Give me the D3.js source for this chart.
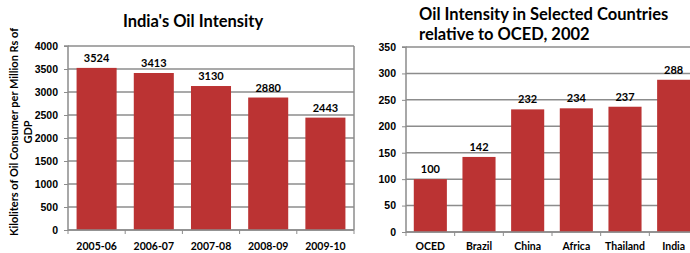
<!DOCTYPE html>
<html>
<head>
<meta charset="utf-8">
<script src="https://cdn.jsdelivr.net/npm/d3@7"></script>
<style>
  body { margin: 0; background: #fff; }
  svg { display: block; font-family: Lato, "Open Sans", sans-serif; }
</style>
</head>
<body>
<svg id="chart" width="690" height="253"></svg>
<script>
// left chart data
var years = ["2005-06", "2006-07", "2007-08", "2008-09", "2009-10"];
var intensity = [3524, 3413, 3130, 2880, 2443];
var leftTicks = [0, 500, 1000, 1500, 2000, 2500, 3000, 3500, 4000];

// right chart data
var countries = ["OCED", "Brazil", "China", "Africa", "Thailand", "India"];
var relative = [100, 142, 232, 234, 237, 288];
var rightTicks = [0, 50, 100, 150, 200, 250, 300, 350];

var barColor = "#bb3333";
var gridColor = "#8c8c8c";

var svg = d3.select("#chart");

function drawPanel(opts) {
    var g = svg.append("g");
    var x = d3.scaleBand().domain(opts.cats).range([opts.x0, opts.x1]).paddingInner(opts.pad).paddingOuter(opts.pad / 2);
    var y = d3.scaleLinear().domain([0, opts.max]).range([opts.y0, opts.y1]);

    // gridlines
    g.selectAll("line.grid").data(opts.ticks).enter().append("line")
        .attr("x1", opts.x0).attr("x2", opts.x1)
        .attr("y1", d => y(d)).attr("y2", d => y(d))
        .attr("stroke", gridColor).attr("stroke-width", 1.5);

    if (opts.rightBorder) {
        g.append("line").attr("x1", opts.x1).attr("x2", opts.x1)
            .attr("y1", opts.y1).attr("y2", opts.y0)
            .attr("stroke", gridColor).attr("stroke-width", 1.5);
    }

    // bars
    g.selectAll("rect").data(opts.vals).enter().append("rect")
        .attr("x", (d, i) => x(opts.cats[i]))
        .attr("width", x.bandwidth())
        .attr("y", d => y(d))
        .attr("height", d => opts.y0 - y(d))
        .attr("fill", barColor);

    // value labels
    g.selectAll("text.val").data(opts.vals).enter().append("text")
        .attr("x", (d, i) => x(opts.cats[i]) + x.bandwidth() / 2)
        .attr("y", d => y(d) - 6)
        .attr("text-anchor", "middle")
        .style("font-size", "11px").style("font-weight", "bold")
        .text(d => d);

    // y axis
    var yAxis = d3.axisLeft(y).tickValues(opts.ticks).tickFormat(d3.format("d")).tickSize(4).tickPadding(6);
    var ya = g.append("g").attr("transform", `translate(${opts.x0},0)`).call(yAxis);
    ya.select(".domain").attr("stroke", gridColor).attr("stroke-width", 1.5).attr("d", `M-4,${opts.y1}H0V${opts.y0}`);
    ya.selectAll(".tick line").attr("stroke", gridColor);
    ya.selectAll("text").style("font-size", "10.5px").style("font-weight", "bold").attr("fill", "#000");

    // x axis
    var xa = g.append("g").attr("transform", `translate(0,${opts.y0})`);
    xa.append("line").attr("x1", opts.x0).attr("x2", opts.x1).attr("stroke", gridColor).attr("stroke-width", 1.5);
    var step = x.step();
    xa.selectAll("line.tk").data(d3.range(opts.cats.length + 1)).enter().append("line")
        .attr("x1", i => opts.x0 + i * step).attr("x2", i => opts.x0 + i * step)
        .attr("y1", 0).attr("y2", 4).attr("stroke", gridColor);
    xa.selectAll("text").data(opts.cats).enter().append("text")
        .attr("x", d => x(d) + x.bandwidth() / 2)
        .attr("y", opts.labelY)
        .attr("text-anchor", "middle")
        .style("font-size", "10.5px").style("font-weight", "bold")
        .text(d => d);
}

drawPanel({ cats: years, vals: intensity, ticks: leftTicks, max: 4000,
    x0: 68, x1: 354, y0: 230, y1: 46, pad: 0.3, rightBorder: true, labelY: 20 });

drawPanel({ cats: countries, vals: relative, ticks: rightTicks, max: 350,
    x0: 406, x1: 698, y0: 232, y1: 47, pad: 0.32, rightBorder: false, labelY: 18 });

// titles
svg.append("text").attr("x", 193).attr("y", 27).attr("text-anchor", "middle")
    .style("font-size", "16.5px").style("font-weight", "bold").text("India's Oil Intensity");
svg.append("text").attr("x", 419).attr("y", 20)
    .style("font-size", "16.5px").style("font-weight", "bold").text("Oil Intensity in Selected Countries");
svg.append("text").attr("x", 419).attr("y", 40)
    .style("font-size", "16.5px").style("font-weight", "bold").text("relative to OCED, 2002");

// y axis title
var yt = svg.append("text").attr("transform", "translate(0,132) rotate(-90)")
    .attr("text-anchor", "middle").style("font-size", "11px").style("font-weight", "bold");
yt.append("tspan").attr("x", 0).attr("y", 18).text("Kiloliters of Oil Consumer per Million Rs of");
yt.append("tspan").attr("x", 0).attr("y", 32).text("GDP");
</script>
</body>
</html>
